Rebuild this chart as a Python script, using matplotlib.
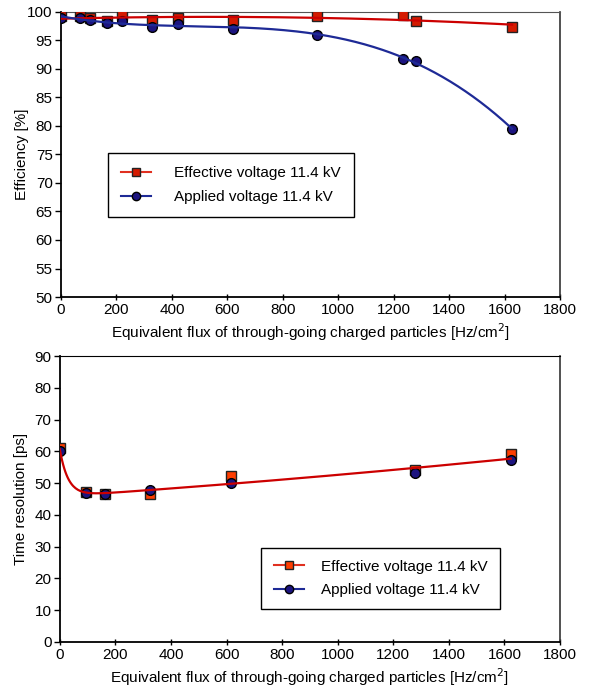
import numpy as np
import matplotlib
matplotlib.use("Agg")
import matplotlib.pyplot as plt
from matplotlib.lines import Line2D

plt.rcParams['font.family'] = ['Liberation Sans', 'DejaVu Sans']
plt.rcParams['font.size'] = 11

# efficiency vs flux
flux_eff_red = [0, 68, 105, 166, 220, 328, 422, 620, 923, 1234, 1281, 1627]
eff_red = [99.2, 99.2, 98.9, 98.3, 99.4, 98.6, 98.9, 98.6, 99.3, 99.5, 98.3, 97.3]
flux_eff_blue = [0, 68, 105, 166, 220, 328, 422, 620, 923, 1234, 1281, 1627]
eff_blue = [98.9, 98.9, 98.5, 98.0, 98.3, 97.4, 97.9, 96.9, 96.0, 91.8, 91.4, 79.4]

# time resolution vs flux
flux_tr = [0, 96, 162, 323, 617, 1279, 1623]
tr_red = [61.2, 47.2, 46.7, 46.7, 52.1, 54.0, 59.3]
tr_blue = [60.1, 47.0, 46.7, 47.7, 50.0, 53.3, 57.2]

lab_eff = "Effective voltage 11.4 kV"
lab_app = "Applied voltage 11.4 kV"
xlabel = "Equivalent flux of through-going charged particles [Hz/cm$^2$]"

red = "#CC0000"
red_mk = "#D41A00"
red_mk2 = "#FF3D00"
blue = "#1E2A96"
blue_mk = "#1C1480"

fig = plt.figure(figsize=(5.92, 6.94), dpi=100)
ax1 = fig.add_axes([0.103, 0.572, 0.843, 0.411])
ax2 = fig.add_axes([0.101, 0.075, 0.845, 0.412])

# trend lines fitted to the measured points
xs = np.linspace(0, 1627, 300)
p_red = np.polyfit(flux_eff_red, eff_red, 2)
p_blue = np.polyfit(flux_eff_blue, eff_blue, 3)

ax1.plot(flux_eff_red, eff_red, 's', ms=7, mfc=red_mk, mec='#222222', mew=1, zorder=3)
ax1.plot(flux_eff_blue, eff_blue, 'o', ms=7, mfc=blue_mk, mec='black', mew=1, zorder=3)
ax1.plot(xs, np.polyval(p_red, xs), color=red, lw=1.6, zorder=4)
ax1.plot(xs, np.polyval(p_blue, xs), color=blue, lw=1.6, zorder=4)

# time resolution: steep drop at low flux then slow rise
xt = np.array(flux_tr, dtype=float)
yt = (np.array(tr_red) + np.array(tr_blue)) / 2
tau = 30.0
A = np.column_stack([np.ones_like(xt), xt, xt**2, np.exp(-xt / tau)])
coef = np.linalg.lstsq(A, yt, rcond=None)[0]
xs2 = np.linspace(0, 1623, 400)
fit2 = coef[0] + coef[1]*xs2 + coef[2]*xs2**2 + coef[3]*np.exp(-xs2 / tau)

ax2.plot(flux_tr, tr_red, 's', ms=7, mfc=red_mk2, mec='#222222', mew=1, zorder=3)
ax2.plot(flux_tr, tr_blue, 'o', ms=7, mfc=blue_mk, mec='black', mew=1, zorder=3)
ax2.plot(xs2, fit2, color=red, lw=1.6, zorder=4)

handles_top = [
    Line2D([], [], color='#E03020', lw=1.5, marker='s', ms=6, mfc=red_mk, mec='#222222'),
    Line2D([], [], color=blue, lw=1.5, marker='o', ms=6, mfc=blue_mk, mec='black'),
]
handles_bot = [
    Line2D([], [], color='#E03020', lw=1.5, marker='s', ms=6, mfc=red_mk2, mec='#222222'),
    Line2D([], [], color=blue, lw=1.5, marker='o', ms=6, mfc=blue_mk, mec='black'),
]

ax1.set_xlim(0, 1800)
ax1.set_ylim(50, 100)
ax1.set_xticks(np.arange(0, 1801, 200))
ax1.set_yticks(np.arange(50, 101, 5))
ax1.set_ylabel("Efficiency [%]")
ax1.set_xlabel(xlabel, labelpad=3)
leg1 = ax1.legend(handles_top, [lab_eff, lab_app], loc='upper left',
                  bbox_to_anchor=(0.094, 0.505), handlelength=2.0, handletextpad=1.5,
                  borderpad=0.85, labelspacing=0.65, borderaxespad=0, fancybox=False,
                  edgecolor='black', framealpha=1)
leg1.get_frame().set_linewidth(1.0)

ax2.set_xlim(0, 1800)
ax2.set_ylim(0, 90)
ax2.set_xticks(np.arange(0, 1801, 200))
ax2.set_yticks(np.arange(0, 91, 10))
ax2.set_ylabel("Time resolution [ps]")
ax2.set_xlabel(xlabel, labelpad=3)
leg2 = ax2.legend(handles_bot, [lab_eff, lab_app], loc='upper left',
                  bbox_to_anchor=(0.403, 0.33), handlelength=2.0, handletextpad=1.1,
                  borderpad=0.8, labelspacing=0.6, borderaxespad=0, fancybox=False,
                  edgecolor='black', framealpha=1)
leg2.get_frame().set_linewidth(1.0)

for ax in (ax1, ax2):
    ax.tick_params(axis='x', direction='inout', length=5, width=1, pad=2)
    ax.tick_params(axis='y', direction='out', length=4, width=1, pad=2)
    ax.spines['left'].set_linewidth(1.3)
    ax.spines['bottom'].set_linewidth(1.3)
    ax.spines['top'].set_color('#555555')
    ax.spines['right'].set_color('#333333')
    ax.spines['right'].set_linewidth(1.2)
    ax.yaxis.set_label_coords(-0.064, 0.5)

ax2.spines['top'].set_color('black')

fig.savefig("out.png", dpi=100)
